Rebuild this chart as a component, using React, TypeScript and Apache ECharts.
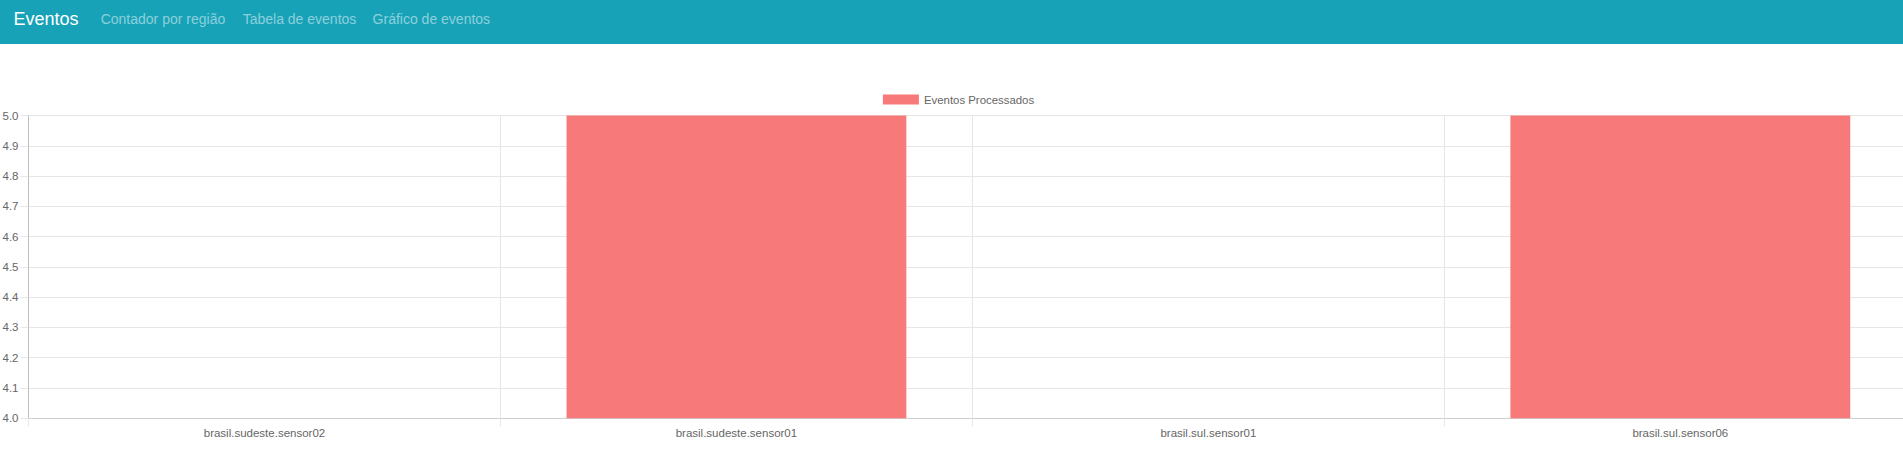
import React, { useEffect, useRef } from "react";
import * as echarts from "echarts";

const categories = [
  "brasil.sudeste.sensor02",
  "brasil.sudeste.sensor01",
  "brasil.sul.sensor01",
  "brasil.sul.sensor06",
];
const values = [4, 5, 4, 5];
const seriesName = "Eventos Processados";
const yMin = 4;
const yMax = 5;
const yStep = 0.1;

const navBrand = "Eventos";
const navLinks = ["Contador por região", "Tabela de eventos", "Gráfico de eventos"];
const navLinkX = [100.7, 242.7, 372.6];

const FONT = "'Liberation Sans', Arial, Helvetica, sans-serif";

function Chart() {
  const ref = useRef<HTMLDivElement>(null);
  useEffect(() => {
    if (!ref.current) return;
    const chart = echarts.init(ref.current, undefined, { renderer: "svg" });
    chart.setOption({
      animation: false,
      legend: {
        top: 45,
        left: "center",
        itemWidth: 36,
        itemHeight: 10,
        itemGap: 10,
        icon: "rect",
        textStyle: { color: "#666", fontSize: 11.4, fontFamily: FONT },
        data: [seriesName],
      },
      grid: {
        left: 28.5,
        right: 0.7,
        top: 71.5,
        bottom: 41.7,
        containLabel: false,
        outerBoundsMode: "none",
      },
      xAxis: {
        type: "category",
        data: categories,
        boundaryGap: true,
        axisLine: { show: true, lineStyle: { color: "#cfcfcf", width: 1 } },
        axisTick: { show: true, length: 8, lineStyle: { color: "#e6e6e6" } },
        splitLine: { show: true, lineStyle: { color: "#e6e6e6" } },
        axisLabel: { color: "#666", fontSize: 11.5, fontFamily: FONT, margin: 9 },
      },
      yAxis: {
        type: "value",
        min: yMin,
        max: yMax,
        interval: yStep,
        axisLine: { show: true, lineStyle: { color: "#bdbdbd", width: 1 } },
        axisTick: { show: true, length: 8, lineStyle: { color: "#e6e6e6" } },
        splitLine: { show: true, lineStyle: { color: "#e6e6e6" } },
        axisLabel: {
          color: "#666",
          fontSize: 11.5,
          fontFamily: FONT,
          margin: 10,
          formatter: (v: number) => v.toFixed(1),
        },
      },
      series: [
        {
          name: seriesName,
          type: "bar",
          data: values,
          barWidth: "72%",
          barMinHeight: 1,
          itemStyle: { color: "#f87979" },
        },
      ],
    });
    return () => chart.dispose();
  }, []);
  return (
    <div
      ref={ref}
      style={{ position: "absolute", left: 0, top: 44, width: 1917, height: 416 }}
    />
  );
}

export default function App() {
  return (
    <div
      style={{
        position: "fixed",
        left: 0,
        top: 0,
        width: 1903,
        height: 460,
        overflow: "hidden",
        background: "#fff",
      }}
    >
      <div
        style={{
          position: "absolute",
          left: 0,
          top: 0,
          width: 1903,
          height: 44,
          background: "#17a2b8",
        }}
      >
        <div
          style={{
            position: "absolute",
            left: 13.5,
            top: 0,
            height: 38,
            lineHeight: "38px",
            fontFamily: FONT,
            fontSize: 18,
            color: "#fff",
            whiteSpace: "nowrap",
          }}
        >
          {navBrand}
        </div>
        {navLinks.map((t, i) => (
          <div
            key={t}
            style={{
              position: "absolute",
              left: navLinkX[i],
              top: 0,
              height: 38,
              lineHeight: "38px",
              fontFamily: FONT,
              fontSize: 14,
              color: "rgba(255,255,255,0.5)",
              whiteSpace: "nowrap",
            }}
          >
            {t}
          </div>
        ))}
      </div>
      <Chart />
    </div>
  );
}
